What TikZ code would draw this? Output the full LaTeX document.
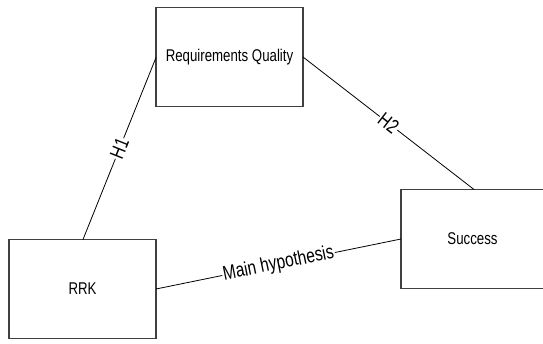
\documentclass[tikz,border=0pt]{standalone}
\usepackage{fontspec}
\setmainfont{Liberation Sans}
\newfontfamily\narrowfont[FakeStretch=0.78]{Liberation Sans}
\begin{document}
\begin{tikzpicture}[x=1pt,y=-1pt,
  box/.style={draw=black!75,line width=1.1pt,rectangle,minimum width=147pt,minimum height=99pt,inner sep=0pt,font=\narrowfont\fontsize{17}{17}\selectfont},
  link/.style={draw=black,line width=0.8pt},
  lbl/.style={fill=white,inner sep=1pt,sloped,font=\narrowfont\fontsize{20}{20}\selectfont}]
\useasboundingbox (0,0) rectangle (543,343);
\node[box] (rq) at (229.5,57) {Requirements Quality};
\node[box,minimum width=143pt] (succ) at (472.5,239) {Success};
\node[box] (rrk) at (82.5,289) {RRK};
\coordinate (a1) at (83,239.5);
\coordinate (b1) at (156,57.5);
\coordinate (a2) at (303,57);
\coordinate (b2) at (474,189.5);
\coordinate (a3) at (156,289);
\coordinate (b3) at (401,239);
\draw[link] (a1) -- node[lbl] {H1} (b1);
\draw[link] (a2) -- node[lbl] {H2} (b2);
\draw[link] (a3) -- node[lbl] {Main hypothesis} (b3);
\end{tikzpicture}
\end{document}
